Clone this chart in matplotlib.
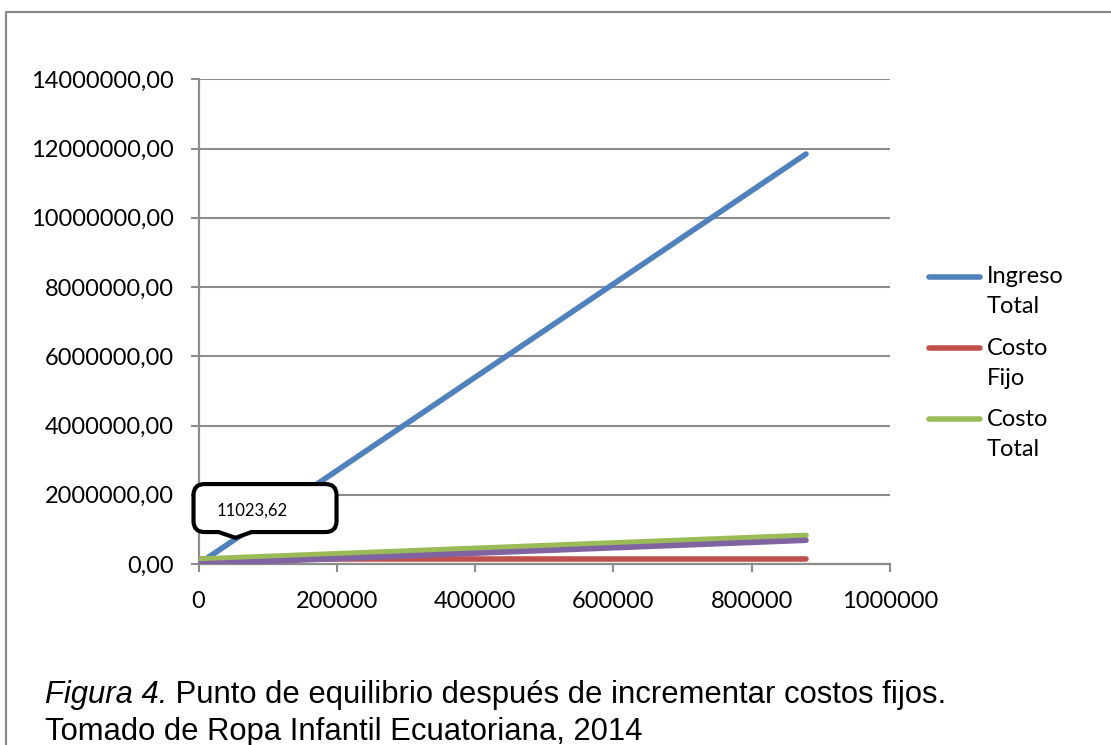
import matplotlib
matplotlib.use("Agg")
import matplotlib.pyplot as plt
import matplotlib.transforms as mtransforms
from matplotlib.path import Path
from matplotlib.patches import PathPatch
from matplotlib.lines import Line2D

# Break-even data: units sold vs. revenue and costs
cantidad = [0, 11023.62, 878500]
ingreso_total = [0, 148598.4, 11842180]
costo_fijo = [140000, 140000, 140000]
costo_total = [140000, 148598.4, 825230]
costo_variable = [0, 8598.4, 685230]

punto_equilibrio_q = 11023.62
punto_equilibrio_ingreso = 148598.4

series_names = ["Ingreso Total", "Costo Fijo", "Costo Total", "Costo Variable"]
series_colors = ["#4F81BD", "#C0504D", "#9BBB59", "#8064A2"]

x_ticks = [0, 200000, 400000, 600000, 800000, 1000000]
y_ticks = [0, 2000000, 4000000, 6000000, 8000000, 10000000, 12000000, 14000000]

caption_italic = "Figura 4."
caption_rest = " Punto de equilibrio después de incrementar costos fijos."
caption_line2 = "Tomado de Ropa Infantil Ecuatoriana, 2014"

W, H = 1111, 745
GRID = "#8c8c8c"
TICK_FONT = ["Lato", "DejaVu Sans"]
CAP_FONT = ["Liberation Sans", "DejaVu Sans"]

fig = plt.figure(figsize=(W / 100, H / 100), dpi=100)


def fx(p):
    return p / W


def fy(p):
    return 1 - p / H


ax = fig.add_axes([fx(198.5), fy(564), fx(890) - fx(198.5), fy(79.3) - fy(564)])
ax.set_xlim(0, 1000000)
ax.set_ylim(0, 14000000)

lw = 4.0
ax.plot(cantidad, ingreso_total, color=series_colors[0], lw=lw, solid_capstyle="round", zorder=3)
ax.plot(cantidad, costo_fijo, color=series_colors[1], lw=lw, solid_capstyle="round", zorder=3)
ax.plot(cantidad, costo_total, color=series_colors[2], lw=lw, solid_capstyle="round", zorder=3)
ax.plot(cantidad, costo_variable, color=series_colors[3], lw=lw, solid_capstyle="round", zorder=3)

ax.set_xticks(x_ticks)
ax.set_xticklabels([f"{v:d}" for v in x_ticks])
ax.set_yticks(y_ticks)
ax.set_yticklabels([f"{v:.2f}".replace(".", ",") for v in y_ticks])
ax.yaxis.grid(True, color=GRID, lw=1.5)
ax.set_axisbelow(True)
for side in ("top", "right"):
    ax.spines[side].set_visible(False)
for side in ("left", "bottom"):
    ax.spines[side].set_color(GRID)
    ax.spines[side].set_linewidth(1.6)
ax.tick_params(axis="y", length=6, width=1.5, color=GRID, pad=12)
ax.tick_params(axis="x", length=5.5, width=1.5, color=GRID, pad=14)
for lab in ax.get_xticklabels() + ax.get_yticklabels():
    lab.set_family(TICK_FONT)
    lab.set_fontsize(17)
    lab.set_color("black")

# Callout for the break-even quantity, anchored at the break-even point
anchor = mtransforms.ScaledTranslation(punto_equilibrio_q, punto_equilibrio_ingreso, ax.transData)
call_trans = mtransforms.Affine2D() + anchor
L, R, B, T, r = -12.6, 130.4, 26.8, 74.8, 11
tip = (29.4, 21.0)
verts = [
    (45.4, B), (R - r, B), (R, B), (R, B + r), (R, T - r), (R, T), (R - r, T),
    (L + r, T), (L, T), (L, T - r), (L, B + r), (L, B), (L + r, B),
    (12.4, B), tip, (45.4, B), (45.4, B),
]
codes = [
    Path.MOVETO, Path.LINETO, Path.CURVE3, Path.CURVE3, Path.LINETO, Path.CURVE3, Path.CURVE3,
    Path.LINETO, Path.CURVE3, Path.CURVE3, Path.LINETO, Path.CURVE3, Path.CURVE3,
    Path.LINETO, Path.LINETO, Path.LINETO, Path.CLOSEPOLY,
]
callout = PathPatch(Path(verts, codes), facecolor="white", edgecolor="black", lw=3.0,
                    joinstyle="round", transform=call_trans, clip_on=False, zorder=6)
ax.add_artist(callout)
ax.annotate(f"{punto_equilibrio_q:.2f}".replace(".", ","),
            xy=(punto_equilibrio_q, punto_equilibrio_ingreso), xytext=(10.4, 47.8),
            textcoords="offset pixels", ha="left", va="center", fontsize=12,
            family=TICK_FONT, zorder=7, annotation_clip=False)

# Legend drawn by hand: handle beside the first line of each two-line label
legend_rows = [
    (series_colors[0], "Ingreso", "Total", 276.7),
    (series_colors[1], "Costo", "Fijo", 348.3),
    (series_colors[2], "Costo", "Total", 419.0),
]
for color, first, second, ypix in legend_rows:
    fig.add_artist(Line2D([fx(929), fx(980)], [fy(ypix), fy(ypix)], transform=fig.transFigure,
                          color=color, lw=lw, solid_capstyle="round"))
    fig.text(fx(986.5), fy(ypix), first, family=TICK_FONT, fontsize=17, va="center", ha="left")
    fig.text(fx(986.5), fy(ypix + 30), second, family=TICK_FONT, fontsize=17, va="center", ha="left")

# Chart frame
fig.add_artist(Line2D([fx(6), fx(6), 1.01], [-0.01, fy(12), fy(12)], transform=fig.transFigure,
                      color="#8a8a8a", lw=1.6))

# Caption
t1 = fig.text(fx(45), fy(703.3), caption_italic, family=CAP_FONT, style="italic",
              fontsize=22.3, va="baseline", ha="left")
ax.annotate(caption_rest, xy=(1, 0), xycoords=t1, va="bottom", ha="left",
            family=CAP_FONT, fontsize=22.3, annotation_clip=False)
fig.text(fx(45), fy(740), caption_line2, family=CAP_FONT, fontsize=22.3, va="baseline", ha="left")

fig.savefig("out.png", dpi=100, facecolor="white")
